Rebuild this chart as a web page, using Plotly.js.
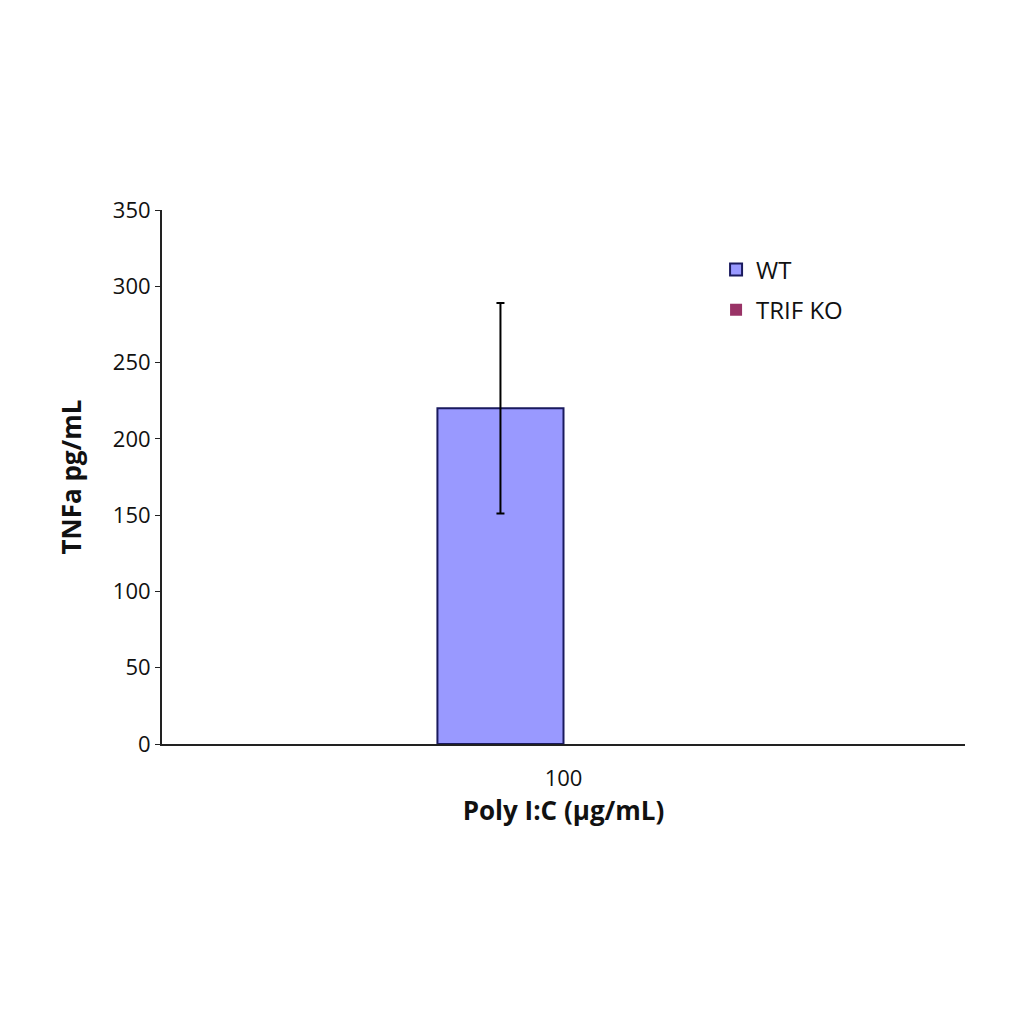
<!DOCTYPE html>
<html>
<head>
<meta charset="utf-8">
<script src="https://cdn.plot.ly/plotly-3.0.1.min.js"></script>
<style>
  html, body { margin: 0; padding: 0; background: #fff; }
  #chart { width: 1024px; height: 1024px; }
</style>
</head>
<body>
<div id="chart"></div>
<script>
const categories = ['100'];
const wtValues = [220];
const wtErrors = [69];
const trifValues = [0];

document.addEventListener('DOMContentLoaded', function() {
  drawChart();
});

function drawChart() {
  const data = [
    {
      type: 'bar',
      name: 'WT',
      legendgroup: 'wt',
      x: categories,
      y: wtValues,
      marker: { color: '#9999FF', line: { color: '#1a1a5e', width: 2 } },
      error_y: { type: 'data', array: wtErrors, visible: true, color: '#000', thickness: 2, width: 4 }
    },
    {
      type: 'bar',
      name: 'TRIF KO',
      legendgroup: 'trif',
      x: categories,
      y: trifValues,
      marker: { color: '#993366', line: { color: '#2a1030', width: 0 } }
    }
  ];

  const layout = {
    width: 1024,
    height: 1024,
    margin: { t: 210, b: 280, l: 162, r: 59 },
    paper_bgcolor: '#fff',
    plot_bgcolor: '#fff',
    font: { family: 'Open Sans, sans-serif', color: '#111', size: 22 },
    barmode: 'group',
    bargap: 0.686,
    bargroupgap: 0,
    showlegend: true,
    legend: {
      x: 0.69, y: 0.93, xanchor: 'left', yanchor: 'top',
      font: { size: 24, color: '#111' },
      tracegroupgap: 6,
      itemwidth: 30,
      bgcolor: 'rgba(0,0,0,0)'
    },
    xaxis: {
      type: 'category',
      showline: true, linecolor: '#222', linewidth: 2,
      ticks: '', showgrid: false,
      ticklabelstandoff: 14,
      tickfont: { size: 22 },
      title: { text: '<b>Poly I:C (μg/mL)</b>', font: { size: 26, color: '#111' }, standoff: 10 }
    },
    yaxis: {
      range: [0, 350],
      dtick: 50,
      showline: true, linecolor: '#222', linewidth: 2,
      ticks: 'outside', ticklen: 5, tickcolor: '#222',
      showgrid: false, zeroline: false,
      tickfont: { size: 22 },
      title: { text: '<b>TNFa pg/mL</b>', font: { size: 26, color: '#111' }, standoff: 24 }
    }
  };

  Plotly.newPlot('chart', data, layout, { staticPlot: true });
}
</script>
</body>
</html>
